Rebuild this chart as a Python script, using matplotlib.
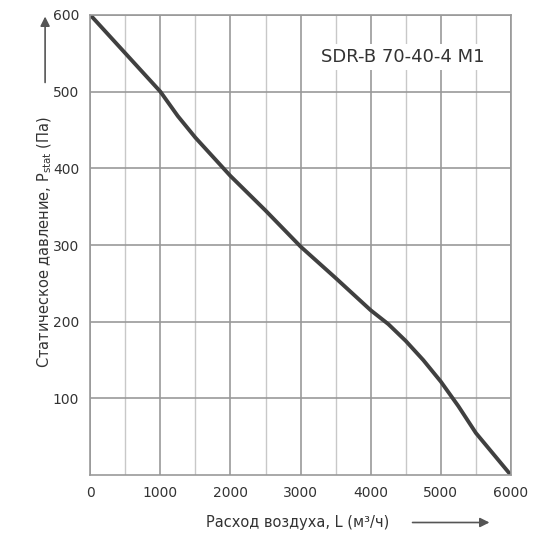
import matplotlib.pyplot as plt

flow = [0, 500, 1000, 1250, 1500, 2000, 2500, 3000, 3500, 4000, 4250, 4500, 4750, 5000, 5250, 5500, 6000]
pressure = [600, 550, 500, 468, 440, 390, 345, 298, 257, 215, 197, 175, 150, 122, 90, 55, 0]

fig = plt.figure(figsize=(5.5, 5.5), dpi=100)
ax = fig.add_axes([0.164, 0.136, 0.765, 0.837])

ax.set_xlim(0, 6000)
ax.set_ylim(0, 600)
ax.set_xticks(range(0, 6001, 1000))
ax.set_yticks(range(100, 601, 100))
ax.set_xticks(range(500, 6000, 1000), minor=True)
ax.grid(True, which='major', color='#999999', linewidth=1.2)
ax.grid(True, which='minor', axis='x', color='#c8c8c8', linewidth=1)
ax.tick_params(which='both', length=0, colors='#333333', labelsize=10, pad=8)
for s in ax.spines.values():
    s.set_color('#999999')
    s.set_linewidth(1.2)
ax.set_axisbelow(True)

ax.plot(flow, pressure, color='#404040', linewidth=2.8, solid_capstyle='round')

ax.text(4450, 545, 'SDR-B 70-40-4 M1', fontsize=13, color='#333333', ha='center', va='center',
        bbox=dict(facecolor='white', edgecolor='none', pad=3))

ax.set_xticklabels([str(v) for v in range(0, 6001, 1000)])
fig.text(0.375, 0.05, 'Расход воздуха, L (м³/ч)', fontsize=10.5, color='#333333', va='center')
ax.annotate('', xy=(0.895, 0.05), xycoords='figure fraction', xytext=(0.745, 0.05),
            arrowprops=dict(arrowstyle='-|>', color='#555555', lw=1.2, mutation_scale=14))
fig.text(0.082, 0.33, 'Статическое давление, P$_{\\mathregular{stat}}$ (Па)', fontsize=10.5,
         color='#333333', rotation=90, ha='center', va='bottom')
ax.annotate('', xy=(0.082, 0.975), xycoords='figure fraction', xytext=(0.082, 0.845),
            arrowprops=dict(arrowstyle='-|>', color='#555555', lw=1.2, mutation_scale=14))

fig.savefig('out.png')
